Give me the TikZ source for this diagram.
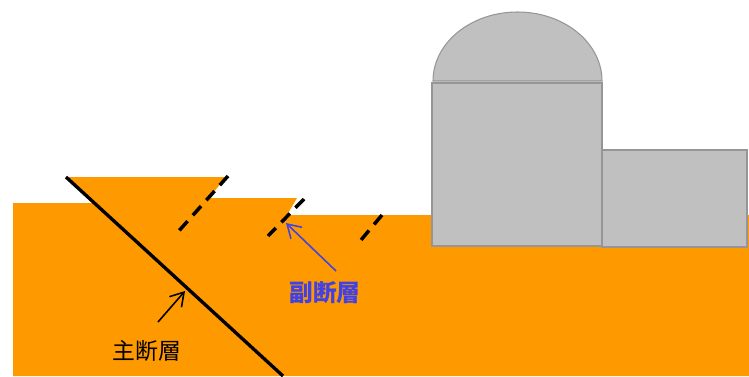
\documentclass[tikz,border=0pt]{standalone}
\usepackage{fontspec}
\newfontfamily\jpfont{Noto Sans CJK JP}
\usetikzlibrary{arrows.meta}

\definecolor{ground}{RGB}{255,153,0}
\definecolor{plant}{RGB}{192,192,192}
\definecolor{plantedge}{RGB}{150,150,150}
\definecolor{subblue}{RGB}{66,66,226}

\begin{document}
\begin{tikzpicture}[x=0.02cm,y=-0.02cm,line join=miter,
    fault/.style={line width=1.9pt,black},
    subfault/.style={line width=2pt,black,dash pattern=on 7pt off 4.5pt},
    building/.style={fill=plant,draw=plantedge,line width=0.6pt},
    pointer/.style={line width=0.9pt,-{Straight Barb[length=2.6mm,width=3.2mm]}}]
  \useasboundingbox (0,0) rectangle (749,376);
  % ===================== terreno =====================
  \fill[ground] (13,376)--(13,203)--(94,203)--(66,177)--(226,177)--(209,198)
    --(297,198)--(287,215)--(749,215)--(749,376)--cycle;
  % ===================== edificios =====================
  % reactor con cupula
  \draw[building] (432,83) rectangle (602,246);
  \draw[building] (433,81) arc[start angle=180,end angle=360,x radius=84.5,y radius=69]--cycle;
  % edificio anexo
  \draw[building] (602,150) rectangle (747,247);
  % ===================== fallas =====================
  \coordinate (mtop) at (66,177);
  \coordinate (mbot) at (283,376);
  \draw[fault] (mtop)--(mbot);
  \coordinate (s1a) at (228,176); \coordinate (s1b) at (177,233);
  \coordinate (s2a) at (304,199); \coordinate (s2b) at (268,236);
  \coordinate (s3a) at (382,215); \coordinate (s3b) at (361,240);
  \draw[subfault] (s1a)--(s1b);
  \draw[subfault] (s2a)--(s2b);
  \draw[subfault] (s3a)--(s3b);
  % ---------- rotulos ----------
  \node (main) at (147,351) {\jpfont\fontsize{13pt}{13pt}\selectfont 主断層};
  \node[text=subblue] (sub) at (325,293) {\jpfont\bfseries\fontsize{13.5pt}{13.5pt}\selectfont 副断層};
  \coordinate (mtail) at (158,322);
  \coordinate (mhead) at (185,291);
  \coordinate (stail) at (336,271);
  \coordinate (shead) at (286,223);
  \draw[pointer] (mtail)--(mhead);
  \draw[pointer,subblue] (stail)--(shead);
\end{tikzpicture}
\end{document}
